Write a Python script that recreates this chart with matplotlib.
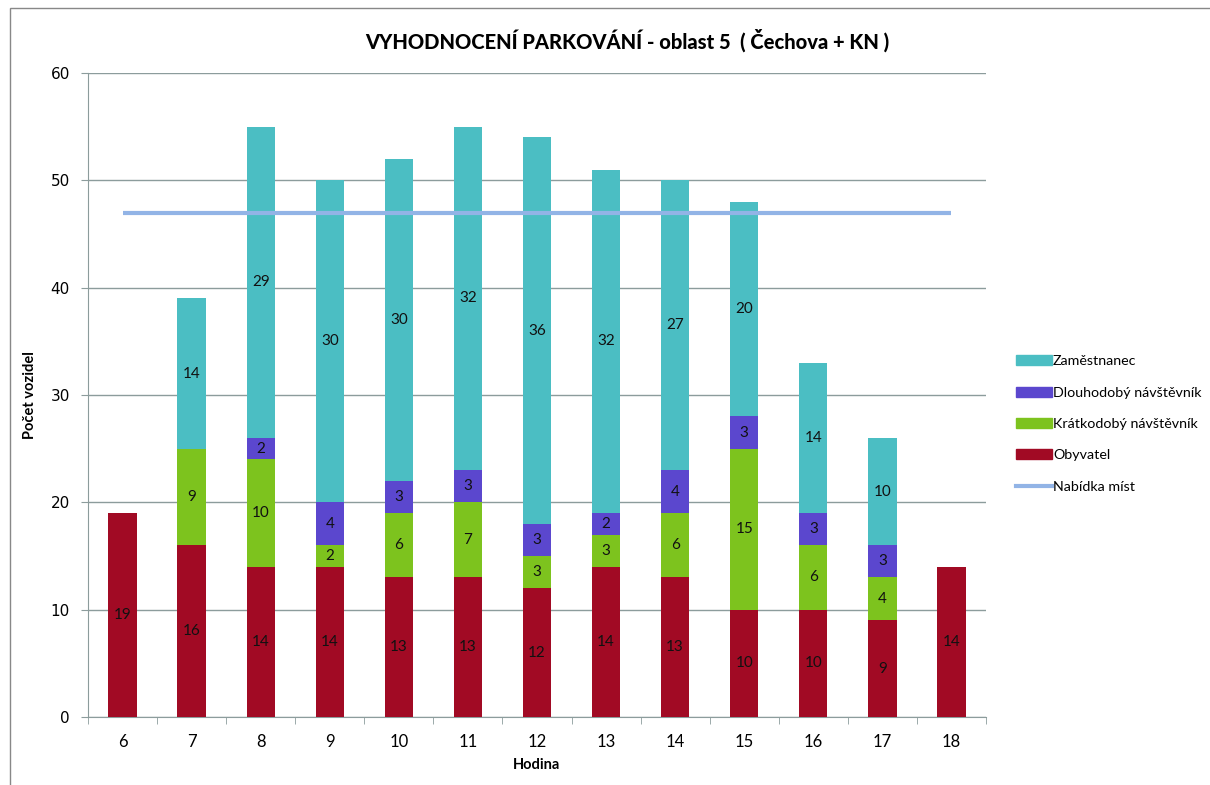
import matplotlib
matplotlib.use("Agg")
import matplotlib.pyplot as plt
from matplotlib.patches import Rectangle, Patch
from matplotlib.lines import Line2D
import numpy as np

hours = [6, 7, 8, 9, 10, 11, 12, 13, 14, 15, 16, 17, 18]
obyvatel = [19, 16, 14, 14, 13, 13, 12, 14, 13, 10, 10, 9, 14]
kratkodoby = [0, 9, 10, 2, 6, 7, 3, 3, 6, 15, 6, 4, 0]
dlouhodoby = [0, 0, 2, 4, 3, 3, 3, 2, 4, 3, 3, 3, 0]
zamestnanec = [0, 14, 29, 30, 30, 32, 36, 32, 27, 20, 14, 10, 0]
nabidka = [47] * len(hours)

series = [
    ("Obyvatel", obyvatel, "#A10A24"),
    ("Krátkodobý návštěvník", kratkodoby, "#7DC31E"),
    ("Dlouhodobý návštěvník", dlouhodoby, "#5B47CE"),
    ("Zaměstnanec", zamestnanec, "#4BBEC3"),
]
line_color = "#92B4E6"
grid_color = "#8C9C9C"
lab_font = ["Lato", "DejaVu Sans"]

fig = plt.figure(figsize=(12.1, 7.85), dpi=100)
ax = fig.add_axes([88 / 1210, 1 - 717 / 785, (986 - 88) / 1210, (717 - 73) / 785])

x = np.arange(len(hours))
bottom = np.zeros(len(hours))
for name, vals, col in series:
    v = np.array(vals, dtype=float)
    ax.bar(x, v, width=0.41, bottom=bottom, color=col, zorder=3)
    for xi, b, h in zip(x, bottom, v):
        if h > 0:
            ax.text(xi, b + h / 2, str(int(h)), ha="center", va="center",
                    fontsize=11, color="#111111", zorder=4, family=lab_font)
    bottom += v

ax.plot(x, nabidka, color=line_color, lw=3, zorder=5, solid_capstyle="butt")

ax.set_xlim(-0.5, len(hours) - 0.5)
ax.set_ylim(0, 60)
ax.set_yticks(range(0, 61, 10))
ax.yaxis.grid(True, color=grid_color, lw=1, zorder=0)
ax.set_xticks(x)
ax.set_xticklabels([str(h) for h in hours], fontsize=12, family=lab_font)
ax.set_xticks(np.arange(-0.5, len(hours), 1), minor=True)
ax.tick_params(axis="x", which="major", length=0, pad=12)
ax.tick_params(axis="x", which="minor", length=5, color=grid_color, direction="out")
ax.tick_params(axis="y", length=5, color=grid_color, labelsize=11, pad=8)
for s in ["top", "right"]:
    ax.spines[s].set_visible(False)
for s in ["left", "bottom"]:
    ax.spines[s].set_color(grid_color)

ax.set_ylabel("Počet vozidel", fontsize=10.5, fontweight="bold", labelpad=10, family=lab_font)
ax.set_xlabel("Hodina", fontsize=10.5, fontweight="bold", labelpad=6, family=lab_font)

fig.text(627 / 1210, 1 - 40 / 785, "VYHODNOCENÍ PARKOVÁNÍ - oblast 5  ( Čechova + KN )",
         ha="center", va="center", fontsize=14.5, fontweight="black",
         family=lab_font)

handles = [Patch(color=c) for _, _, c in series[::-1]] + [Line2D([0], [0], color=line_color, lw=3)]
labels = [n for n, _, _ in series[::-1]] + ["Nabídka míst"]
fig.legend(handles, labels, loc="center left", bbox_to_anchor=(1003 / 1210, 1 - 424 / 785),
           frameon=False, prop={"family": lab_font, "size": 10.3}, handlelength=2.5, handleheight=0.7,
           labelspacing=1.35, handletextpad=0.1)

fig.patches.append(Rectangle((10 / 1210, -0.1), 1.2, 1 - 8 / 785 + 0.1, transform=fig.transFigure,
                             fill=False, edgecolor="#888888", lw=1))

fig.savefig("out.png", dpi=100)
